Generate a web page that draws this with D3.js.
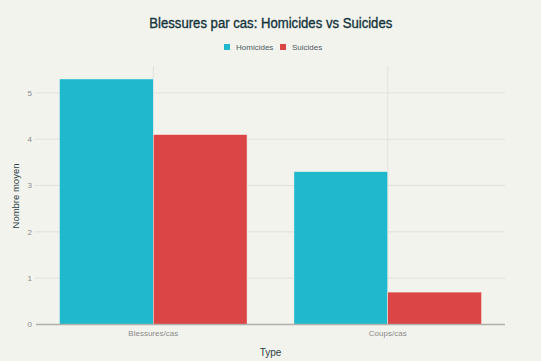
<!DOCTYPE html>
<html>
<head>
<meta charset="utf-8">
<script src="https://cdn.jsdelivr.net/npm/d3@7"></script>
<style>
  body { margin: 0; background: #f3f3ee; }
  svg { display: block; font-family: "Liberation Sans", Arial, sans-serif; }
</style>
</head>
<body>
<svg id="chart" width="541" height="361"></svg>
<script>
const categories = ["Blessures/cas", "Coups/cas"];
const seriesNames = ["Homicides", "Suicides"];
const homicides = [5.3, 3.3];
const suicides = [4.1, 0.7];
const yTicks = [0, 1, 2, 3, 4, 5];
const colors = ["#1FB8CD", "#DB4545"];

const svg = d3.select("#chart");
const plotLeft = 36, plotRight = 505, plotTop = 66, plotBottom = 324.5;

svg.append("rect").attr("width", 541).attr("height", 361).attr("fill", "#f3f3ee");

const x = d3.scaleBand().domain(categories).range([plotLeft, plotRight]).paddingInner(0.2).paddingOuter(0.1);
const xs = d3.scaleBand().domain(seriesNames).range([0, x.bandwidth()]);
const y = d3.scaleLinear().domain([0, 5.58]).range([plotBottom, plotTop]);

// grid
const grid = svg.append("g");
grid.selectAll(".yg").data(yTicks.filter(d => d > 0)).join("line")
  .attr("x1", plotLeft - 1).attr("x2", plotRight)
  .attr("y1", d => y(d)).attr("y2", d => y(d))
  .attr("stroke", "#e1e1dc").attr("stroke-width", 1);
grid.selectAll(".xg").data(categories).join("line")
  .attr("x1", d => x(d) + x.bandwidth() / 2).attr("x2", d => x(d) + x.bandwidth() / 2)
  .attr("y1", plotTop).attr("y2", plotBottom)
  .attr("stroke", "#e1e1dc").attr("stroke-width", 1);

// y tick labels
svg.append("g").selectAll("text").data(yTicks).join("text")
  .attr("x", 32).attr("y", d => y(d)).attr("dy", "0.35em")
  .attr("text-anchor", "end").attr("font-size", 8).attr("fill", "#8a8a8a")
  .text(d => d);

// bars
const data = categories.map((c, i) => ({ cat: c, vals: [homicides[i], suicides[i]] }));
const groups = svg.append("g").selectAll("g").data(data).join("g")
  .attr("transform", d => "translate(" + x(d.cat) + ",0)");
groups.selectAll("rect").data(d => d.vals.map((v, j) => ({ name: seriesNames[j], v: v, j: j }))).join("rect")
  .attr("x", d => xs(d.name))
  .attr("width", xs.bandwidth())
  .attr("y", d => y(d.v))
  .attr("height", d => y(0) - y(d.v))
  .attr("fill", d => colors[d.j])
  .attr("stroke", "#f3f3ee").attr("stroke-width", 0.5);

// zero line
svg.append("line").attr("x1", plotLeft).attr("x2", plotRight).attr("y1", y(0)).attr("y2", y(0))
  .attr("stroke", "#b0b0ac").attr("stroke-width", 1.5);

// x labels
svg.append("g").selectAll("text").data(categories).join("text")
  .attr("x", d => x(d) + x.bandwidth() / 2).attr("y", 336)
  .attr("text-anchor", "middle").attr("font-size", 8).attr("fill", "#8a8a8a")
  .text(d => d);

// axis titles
svg.append("text").attr("x", 270.5).attr("y", 355.5)
  .attr("text-anchor", "middle").attr("font-size", 10).attr("fill", "#2a3f44").text("Type");
svg.append("text").attr("transform", "translate(18.5,196) rotate(-90)")
  .attr("text-anchor", "middle").attr("font-size", 9.5).attr("fill", "#2a3f44").text("Nombre moyen");

// title
svg.append("text").attr("x", 270.8).attr("y", 27.5)
  .attr("text-anchor", "middle").attr("font-size", 14)
  .attr("textLength", 243).attr("lengthAdjust", "spacingAndGlyphs")
  .attr("fill", "#13343b").attr("stroke", "#13343b").attr("stroke-width", 0.35)
  .text("Blessures par cas: Homicides vs Suicides");

// legend
const legX = [224, 280];
const leg = svg.append("g").selectAll("g").data(seriesNames).join("g")
  .attr("transform", (d, i) => "translate(" + legX[i] + ",47)");
leg.append("rect").attr("x", 0).attr("y", -3).attr("width", 6).attr("height", 6)
  .attr("fill", (d, i) => colors[i]);
leg.append("text").attr("x", 12).attr("dy", "0.35em").attr("font-size", 8)
  .attr("fill", "#4d5a5e").text(d => d);
</script>
</body>
</html>
